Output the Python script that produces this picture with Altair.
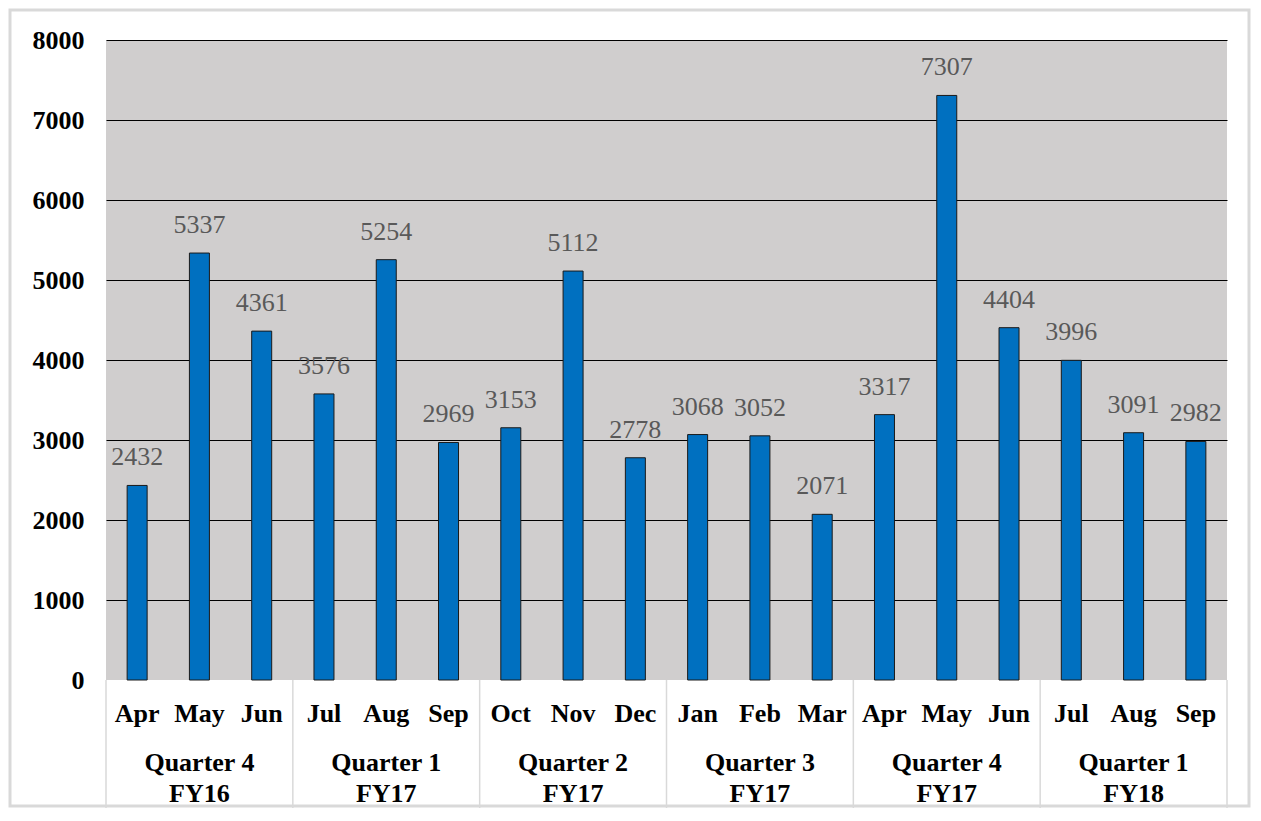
import altair as alt
import pandas as pd

months = ["Apr", "May", "Jun", "Jul", "Aug", "Sep", "Oct", "Nov", "Dec",
          "Jan", "Feb", "Mar", "Apr", "May", "Jun", "Jul", "Aug", "Sep"]
values = [2432, 5337, 4361, 3576, 5254, 2969, 3153, 5112, 2778,
          3068, 3052, 2071, 3317, 7307, 4404, 3996, 3091, 2982]
quarters = ["Quarter 4", "Quarter 1", "Quarter 2", "Quarter 3", "Quarter 4", "Quarter 1"]
fiscal_years = ["FY16", "FY17", "FY17", "FY17", "FY17", "FY18"]
y_ticks = [0, 1000, 2000, 3000, 4000, 5000, 6000, 7000, 8000]

FONT = "Times New Roman, Liberation Serif, serif"
W, H = 1121, 640

df = pd.DataFrame({"idx": list(range(len(months))), "month": months, "value": values})
qdf = pd.DataFrame({
    "start": [i * 3 for i in range(len(quarters))],
    "mid": [i * 3 + 1 for i in range(len(quarters))],
    "label": [q + "\n" + fy for q, fy in zip(quarters, fiscal_years)],
})
last_df = pd.DataFrame({"idx": [len(months) - 1]})

xscale = alt.Scale(paddingInner=0, paddingOuter=0, domain=list(range(len(months))))
yscale = alt.Scale(domain=[0, 8000], nice=False)

x_enc = alt.X("idx:O", scale=xscale, axis=None)

bars = alt.Chart(df).mark_bar(width=20, color="#0070C0", stroke="#1a1a1a", strokeWidth=1).encode(
    x=x_enc,
    y=alt.Y("value:Q", scale=yscale,
            axis=alt.Axis(values=y_ticks, title=None, domain=False, ticks=False, format="d",
                          labelFont=FONT, labelFontSize=26, labelFontWeight="bold",
                          labelColor="#000000", labelPadding=22,
                          gridColor=alt.condition("datum.value == 0", alt.value("transparent"), alt.value("#000000")),
                          gridWidth=1.2)),
)

value_text = alt.Chart(df).mark_text(font=FONT, fontSize=26, color="#595959", baseline="alphabetic", dy=-20).encode(
    x=x_enc,
    y=alt.Y("value:Q", scale=yscale),
    text=alt.Text("value:Q", format="d"),
)

month_text = alt.Chart(df).mark_text(font=FONT, fontSize=26, fontWeight="bold", color="#000000",
                                     baseline="alphabetic").encode(
    x=x_enc,
    y=alt.value(H + 42),
    text="month:N",
)

quarter_text = alt.Chart(qdf).mark_text(font=FONT, fontSize=26, fontWeight="bold", color="#000000",
                                        baseline="alphabetic", lineBreak="\n", lineHeight=31).encode(
    x=alt.X("mid:O", scale=xscale, axis=None),
    y=alt.value(H + 91),
    text="label:N",
)

sep_rules = alt.Chart(qdf).mark_rule(color="#d9d9d9", strokeWidth=1.5).encode(
    x=alt.X("start:O", scale=xscale, axis=None, bandPosition=0),
    y=alt.value(H),
    y2=alt.value(H + 128),
)

last_rule = alt.Chart(last_df).mark_rule(color="#d9d9d9", strokeWidth=1.5).encode(
    x=alt.X("idx:O", scale=xscale, axis=None, bandPosition=1),
    y=alt.value(H),
    y2=alt.value(H + 128),
)

frame = alt.Chart(last_df).mark_rect(fill="transparent", stroke="#d9d9d9", strokeWidth=3).encode(
    x=alt.value(-96), x2=alt.value(W + 22),
    y=alt.value(-30), y2=alt.value(H + 126),
)

chart = alt.layer(bars, value_text, month_text, quarter_text, sep_rules, last_rule, frame).properties(
    width=W, height=H,
    autosize=alt.AutoSizeParams(type="none"),
    padding={"left": 98, "top": 32, "right": 24, "bottom": 128},
    background="#ffffff",
).configure_view(fill="#D0CECE", stroke=None)

chart.save("out.html", embed_options={"renderer": "svg", "actions": False})
